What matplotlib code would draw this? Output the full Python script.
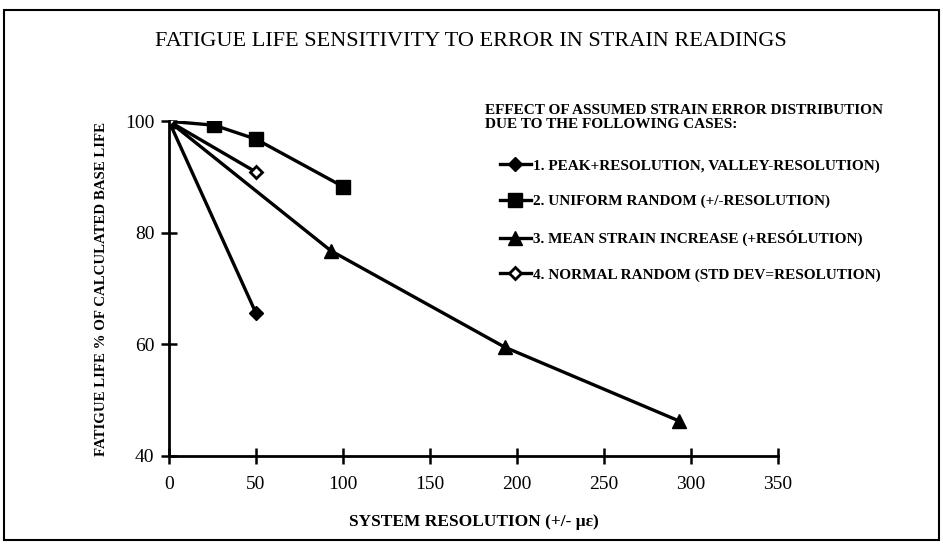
import matplotlib
matplotlib.use('Agg')
import matplotlib.pyplot as plt
from matplotlib.patches import Rectangle

# data
x_peak = [0, 50]
y_peak = [100, 65.6]
x_uniform = [0, 26, 50, 100]
y_uniform = [100, 99.3, 96.8, 88.3]
x_mean = [0, 93, 193, 293]
y_mean = [100, 76.8, 59.5, 46.3]
x_normal = [0, 50]
y_normal = [100, 90.9]

labels = ['1. PEAK+RESOLUTION, VALLEY-RESOLUTION)',
          '2. UNIFORM RANDOM (+/-RESOLUTION)',
          '3. MEAN STRAIN INCREASE (+RESÓLUTION)',
          '4. NORMAL RANDOM (STD DEV=RESOLUTION)']
x_ticks = [0, 50, 100, 150, 200, 250, 300, 350]
y_ticks = [40, 60, 80, 100]

plt.rcParams['font.family'] = ['Liberation Serif', 'DejaVu Serif']

W, H = 943, 550
fig = plt.figure(figsize=(W / 100, H / 100), dpi=100)
ax = fig.add_axes([169 / W, 1 - 456 / H, (778 - 169) / W, (456 - 121.3) / H])

lw = 2.4
ax.plot(x_peak, y_peak, color='black', lw=lw, marker='D', ms=7, label=labels[0])
ax.plot(x_uniform, y_uniform, color='black', lw=lw, marker='s', ms=10, label=labels[1])
ax.plot(x_mean, y_mean, color='black', lw=lw, marker='^', ms=10, label=labels[2])
ax.plot(x_normal, y_normal, color='black', lw=lw, marker='D', ms=6,
        mfc='white', mec='black', mew=2, label=labels[3])

ax.set_xlim(0, 350)
ax.set_ylim(40, 100)
ax.set_xticks(x_ticks)
ax.set_yticks(y_ticks)
for s in ['top', 'right']:
    ax.spines[s].set_visible(False)
for s in ['left', 'bottom']:
    ax.spines[s].set_linewidth(2)
ax.tick_params(direction='inout', length=11, width=1.8, labelsize=14, pad=5)
ax.tick_params(axis='x', pad=9)
ax.patch.set_alpha(0)

ax.set_xlabel('SYSTEM RESOLUTION (+/- \u03bc\u03b5)', fontsize=12.5, fontweight='bold', labelpad=15)
ax.set_ylabel('FATIGUE LIFE % OF CALCULATED BASE LIFE', fontsize=10.7, fontweight='bold', labelpad=12)

fig.text(471 / W, 1 - 42 / H, 'FATIGUE LIFE SENSITIVITY TO ERROR IN STRAIN READINGS',
         ha='center', va='center', fontsize=16)

fig.text(485 / W, 1 - 104 / H, 'EFFECT OF ASSUMED STRAIN ERROR DISTRIBUTION\nDUE TO THE FOLLOWING CASES:',
         ha='left', va='top', fontsize=11, fontweight='bold', linespacing=1.15)

leg = ax.legend(loc='upper left', bbox_to_anchor=(500 / W, 1 - 159 / H),
                bbox_transform=fig.transFigure, frameon=False,
                prop={'weight': 'bold', 'size': 11}, handlelength=2.0,
                handletextpad=0.15, labelspacing=1.42, borderpad=0, borderaxespad=0)

fig.patches.append(Rectangle((4 / W, 1 - 540 / H), 935 / W, 530 / H, transform=fig.transFigure,
                             fill=False, edgecolor='black', lw=1.5))

fig.savefig('out.png', dpi=100)
